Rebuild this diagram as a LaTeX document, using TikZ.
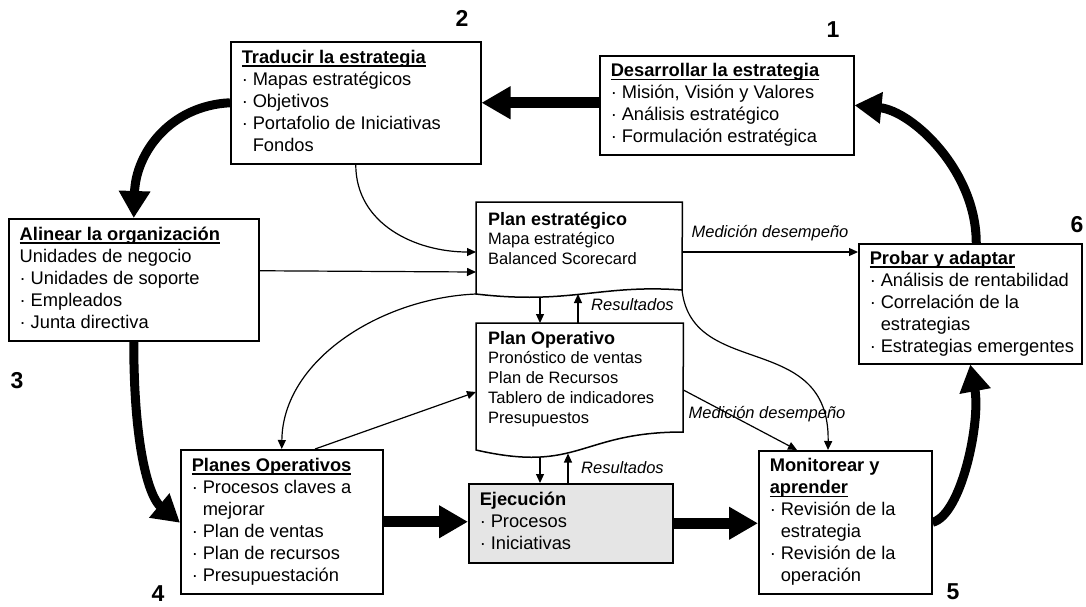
\documentclass[tikz,border=0pt]{standalone}
\usepackage{fontspec}
\setmainfont{Liberation Sans}
\usetikzlibrary{arrows.meta}
\definecolor{execfill}{RGB}{229,229,229}
% bullet, hanging indent and underline helpers
\newcommand\bl{\makebox[11pt][l]{·}}
\newcommand\ind{\hspace*{11pt}}
\newlength\ulw
\newcommand\ul[1]{\settowidth\ulw{#1}\rlap{\rule[-3.5pt]{\ulw}{1.6pt}}#1}
\newcommand\lines[2]{\makebox[#1][l]{\begin{tabular}{@{}l@{}}#2\end{tabular}}}
\newcommand\boxfont{\fontsize{18.3}{22}\selectfont}
\newcommand\docfont{\fontsize{16.5}{19.8}\selectfont}
\newcommand\doctitle[1]{{\fontsize{18}{19.8}\selectfont\bfseries #1}}

\begin{document}
\begin{tikzpicture}[x=1pt,y=-1pt,
  box/.style={draw, line width=1.5pt, anchor=north west, inner xsep=11pt, inner ysep=0pt, font=\boxfont},
  doc/.style={anchor=north west, inner xsep=12pt, font=\docfont},
  docline/.style={draw, line width=1.5pt},
  link/.style={line width=1.2pt, -{Triangle[length=9pt,width=8pt]}},
  flow/.style={line width=11pt, -{Triangle[length=29pt,width=31pt]}},
  bend flow/.style={line width=9pt, -{Triangle[length=27pt,width=30pt]}},
  tag/.style={font=\docfont\itshape, inner sep=1pt},
  num/.style={font=\fontsize{23}{26}\selectfont\bfseries, inner sep=0pt}]
\useasboundingbox (0,0) rectangle (1086,606);

% stage boxes
\node[box, minimum width=254pt, minimum height=99pt] (des) at (599,55)
  {\lines{232pt}{\ul{\textbf{Desarrollar la estrategia}}\\\bl Misión, Visión y Valores\\\bl Análisis estratégico\\\bl Formulación estratégica}};
\node[box, minimum width=250pt, minimum height=122pt] (tra) at (230,41)
  {\lines{228pt}{\ul{\textbf{Traducir la estrategia}}\\\bl Mapas estratégicos\\\bl Objetivos\\\bl Portafolio de Iniciativas\\\ind Fondos}};
\node[box, minimum width=250pt, minimum height=122pt] (ali) at (8,218)
  {\lines{228pt}{\ul{\textbf{Alinear la organización}}\\Unidades de negocio\\\bl Unidades de soporte\\\bl Empleados\\\bl Junta directiva}};
\node[box, minimum width=202pt, minimum height=144pt] (plo) at (180,449)
  {\lines{180pt}{\ul{\textbf{Planes Operativos}}\\\bl Procesos claves a\\\ind mejorar\\\bl Plan de ventas\\\bl Plan de recursos\\\bl Presupuestación}};
\node[box, fill=execfill, minimum width=204pt, minimum height=79pt] (eje) at (468,483)
  {\lines{182pt}{\textbf{Ejecución}\\\bl Procesos\\\bl Iniciativas}};
\node[box, minimum width=173pt, minimum height=143pt] (mon) at (758,450)
  {\lines{151pt}{\textbf{Monitorear y}\\\ul{\textbf{aprender}}\\\bl Revisión de la\\\ind estrategia\\\bl Revisión de la\\\ind operación}};
\node[box, minimum width=223pt, minimum height=120pt] (pro) at (858,243)
  {\lines{201pt}{\ul{\textbf{Probar y adaptar}}\\\bl Análisis de rentabilidad\\\bl Correlación de la\\\ind estrategias\\\bl Estrategias emergentes}};

% document-shaped plans
\node[doc, inner ysep=9pt] (pes) at (476,202)
  {\lines{182pt}{\doctitle{Plan estratégico}\\Mapa estratégico\\Balanced Scorecard}};
\coordinate (pesR) at (682,290);
\coordinate (pesL) at (476,294);
\draw[docline] (pes.north west) -- (pes.north east) -- (pesR)
  .. controls (600,284) and (570,305) .. (pesL) -- cycle;

\node[doc, inner ysep=7pt] (pop) at (476,323)
  {\lines{183pt}{\doctitle{Plan Operativo}\\Pronóstico de ventas\\Plan de Recursos\\Tablero de indicadores\\Presupuestos}};
\coordinate (popR) at (683,432);
\coordinate (popL) at (476,450);
\draw[docline] (pop.north west) -- (pop.north east) -- (popR)
  .. controls (579.5,432) and (579.5,473.6) .. (popL) -- cycle;

% main cycle
\draw[flow] (des.west |- tra.east) -- (tra.east);
\draw[bend flow] (tra.west) .. controls +(-60,3) and +(2,-65) .. (ali.north);
\draw[bend flow] (ali.south) .. controls +(0,110) and +(-30,-25) .. ([yshift=-1pt]plo.west);
\draw[flow] (plo.east) -- (eje.west |- plo.east);
\draw[flow] (eje.east) -- (mon.west |- eje.east);
\draw[bend flow] (mon.east) .. controls +(29,-7) and +(10.5,57) .. (pro.south);
\draw[bend flow] ([xshift=6pt]pro.north) .. controls +(0,-73) and +(57,5.5) .. (des.east);

% plan links
\draw[link] (tra.south) .. controls +(0,60) and +(-60,0) .. ([yshift=-50pt]pes.north west);
\draw[link] ([yshift=9pt]ali.east) -- ([yshift=-70pt]pes.north west);
\draw[link] (pesL) .. controls +(-95,4) and +(1,-89) .. (plo.north);
\draw[link] ([xshift=135pt]plo.north west) -- ([yshift=-69pt]pop.north west);
\draw[link] ([yshift=-50pt]pes.north east) -- ([yshift=-9pt]pro.north west);
\draw[link] (pesR) .. controls +(10,90) and +(2,-120) .. ([xshift=70pt]mon.north west);
\draw[link] ([yshift=-67pt]pop.north east) -- ([xshift=39pt]mon.north west);

\coordinate (pesD) at (540,297);
\coordinate (pesU) at (578,294);
\draw[link] (pesD) -- (pesD |- pop.north);
\draw[link] (pesU |- pop.north) -- (pesU);
\coordinate (popD) at (540,457);
\coordinate (popU) at (568,453.5);
\draw[link] (popD) -- (popD |- eje.north);
\draw[link] (popU |- eje.north) -- (popU);

% labels
\node[tag] (m1) at (770,233) {Medición desempeño};
\node[tag, anchor=west] (r1) at (590,305) {Resultados};
\node[tag, anchor=west] (r2) at (580,468) {Resultados};
\node[tag] (m2) at (767,414) {Medición desempeño};

% step numbers
\node[num] (n1) at (833,30) {1};
\node[num] (n2) at (462,18) {2};
\node[num] (n3) at (17,381) {3};
\node[num] (n4) at (158,594) {4};
\node[num] (n5) at (953,592) {5};
\node[num] (n6) at (1077,225) {6};
\end{tikzpicture}
\end{document}
